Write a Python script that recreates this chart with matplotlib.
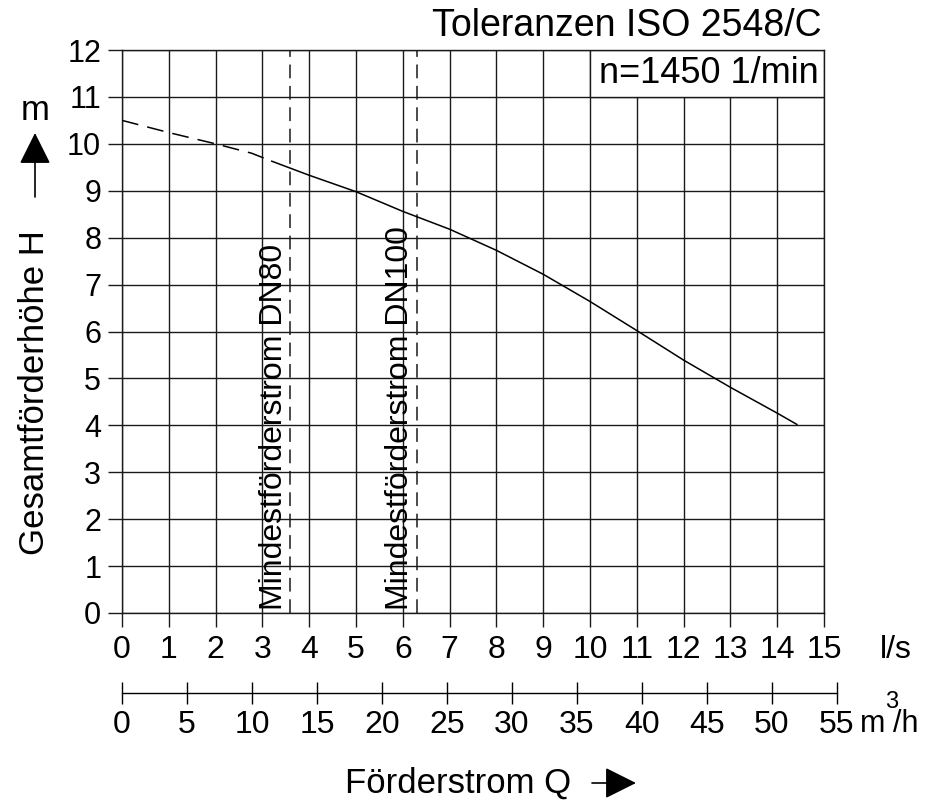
import matplotlib
matplotlib.use("Agg")
import matplotlib.pyplot as plt
from matplotlib.patches import Rectangle

plt.rcParams['font.family'] = ['Liberation Sans', 'DejaVu Sans']

# pump curve (Q in l/s, H in m)
q_dashed = [0, 1, 2, 2.77, 3.2]
h_dashed = [10.5, 10.24, 10.0, 9.8, 9.63]
q_solid = [3.2, 4, 5, 6, 7, 8, 9, 10, 11, 12, 13, 14, 14.42]
h_solid = [9.63, 9.33, 8.98, 8.56, 8.18, 7.73, 7.22, 6.64, 6.02, 5.39, 4.81, 4.26, 4.02]

# minimum flow marks
min_flow_q = [3.59, 6.3]
min_flow_labels = ['Mindestförderstrom DN80', 'Mindestförderstrom DN100']

q_ticks = list(range(0, 16))
h_ticks = list(range(0, 13))
m3h_ticks = list(range(0, 60, 5))

W, H = 941, 805
fig = plt.figure(figsize=(W / 100, H / 100), dpi=100)

def fx(px):
    return px / W

def fy(py):
    return 1 - py / H

ax = fig.add_axes([fx(122), fy(613), fx(824) - fx(122), fy(50) - fy(613)])
ax.set_xlim(0, 15)
ax.set_ylim(0, 12)
ax.set_xticks(q_ticks)
ax.set_yticks(h_ticks)
ax.grid(True, color='#1a1a1a', lw=1.0)
ax.set_axisbelow(True)
for s in ax.spines.values():
    s.set_color('#1a1a1a')
    s.set_linewidth(1.0)
ax.tick_params(axis='both', direction='out', length=10, width=1.0, color='#1a1a1a')
ax.tick_params(axis='y', labelsize=22, pad=5)
ax.tick_params(axis='x', labelsize=23, pad=6)

# speed box in the top row
ax.add_patch(Rectangle((10, 11), 5, 1, facecolor='white', edgecolor='#1a1a1a', lw=1.0, zorder=2))
ax.text(12.55, 11.5, 'n=1450 1/min', ha='center', va='center', fontsize=26, zorder=3)

ax.plot(q_dashed, h_dashed, color='black', lw=1.1, dashes=(11, 6), zorder=4)
ax.plot(q_solid, h_solid, color='black', lw=1.1, zorder=4)

for q, lab in zip(min_flow_q, min_flow_labels):
    ax.axvline(q, color='#1a1a1a', lw=1.1, dashes=(9, 5), zorder=3)
    ax.text(q - 0.03, 0.06, lab, rotation=90, ha='right', va='bottom', fontsize=23, zorder=3)

# second flow scale in m3/h
ax2 = fig.add_axes([fx(122), fy(693), fx(122 + 55 / 3.6 * 46.8) - fx(122), 0.0001])
ax2.set_xlim(0, 55)
ax2.set_xticks(m3h_ticks)
ax2.set_yticks([])
ax2.patch.set_visible(False)
for k in ('left', 'right', 'top'):
    ax2.spines[k].set_visible(False)
ax2.spines['bottom'].set_linewidth(1.0)
ax2.tick_params(axis='x', direction='inout', length=16, width=1.0, labelsize=23, pad=4)

fig.text(fx(896), fy(650), 'l/s', ha='center', va='center', fontsize=23)
fig.text(fx(860), fy(724), 'm', ha='left', va='center', fontsize=22)
fig.text(fx(885), fy(702), '3', ha='left', va='center', fontsize=17)
fig.text(fx(893), fy(724), '/h', ha='left', va='center', fontsize=22)

fig.text(fx(822), fy(26), 'Toleranzen ISO 2548/C', ha='right', va='center', fontsize=27)

# axis titles with arrows
fig.text(fx(35), fy(393), 'Gesamtförderhöhe H', rotation=90, ha='center', va='center', fontsize=25)
fig.text(fx(35), fy(110), 'm', ha='center', va='center', fontsize=25)
fig.text(fx(458), fy(783), 'Förderstrom Q', ha='center', va='center', fontsize=25)

arrow = dict(arrowstyle='-|>,head_length=0.7,head_width=0.35', color='black', lw=1.2,
             mutation_scale=28, shrinkA=0, shrinkB=0)
ax.annotate('', xy=(fx(35), fy(133)), xytext=(fx(35), fy(197)),
            xycoords='figure fraction', textcoords='figure fraction', arrowprops=arrow)
ax.annotate('', xy=(fx(636), fy(783)), xytext=(fx(592), fy(783)),
            xycoords='figure fraction', textcoords='figure fraction', arrowprops=arrow)

fig.savefig('out.png', dpi=100)
